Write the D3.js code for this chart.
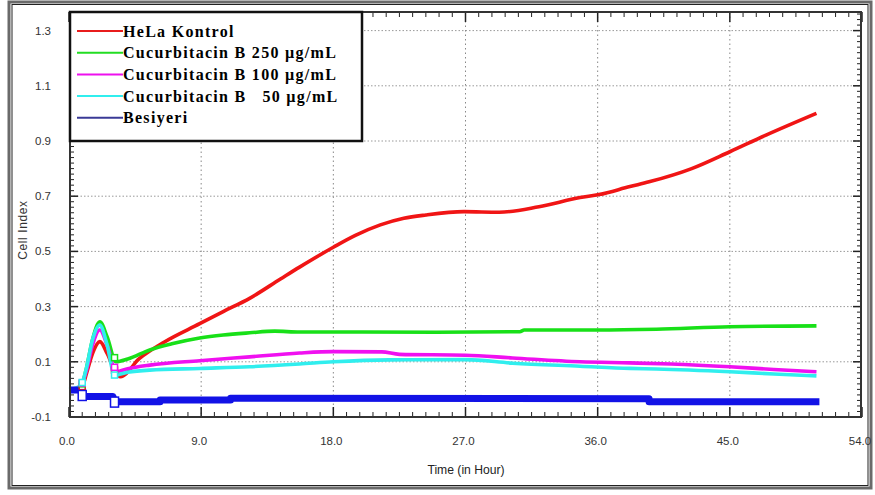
<!DOCTYPE html>
<html>
<head>
<meta charset="utf-8">
<script src="https://cdn.jsdelivr.net/npm/d3@7/dist/d3.min.js"></script>
<style>
  html, body { margin: 0; padding: 0; background: #fff; }
  svg { display: block; }
  .tick-label { font-family: "Liberation Sans", Arial, sans-serif; font-size: 11.5px; fill: #333; }
  .legend-text { font-family: "Liberation Serif", "Times New Roman", serif; font-weight: bold; font-size: 16px; fill: #000; letter-spacing: 1.3px; white-space: pre; }
</style>
</head>
<body>
<script>
// Series: [hour, cell index]
const seriesNames = ["HeLa Kontrol", "Cucurbitacin B 250 µg/mL", "Cucurbitacin B 100 µg/mL", "Cucurbitacin B   50 µg/mL", "Besiyeri"];
const seriesColors = ["#f01515", "#18e018", "#f010f0", "#30eeee", "#1212e6"];
const legendColors = ["#e81c1c", "#22dd22", "#ee10ee", "#30eeee", "#3a3a96"];

const helaKontrol = [[0,0.0],[0.5,0.0],[0.9,0.01],[1.2,0.06],[1.6,0.13],[2.1,0.173],[2.6,0.13],[3.1,0.07],[3.5,0.046],
  [4.8,0.112],[6.5,0.172],[8.9,0.238],[10.5,0.282],[12.3,0.33],[14.4,0.40],[15.7,0.443],[18,0.515],[19.5,0.558],
  [21.2,0.596],[22.8,0.62],[24.3,0.632],[26.9,0.644],[29.3,0.642],[32,0.662],[34.8,0.695],[36.1,0.706],[38.2,0.735],
  [39.5,0.752],[42.4,0.80],[45,0.861],[47.5,0.922],[50.9,1.0]];
const cuc250 = [[0,0.0],[0.5,0.0],[0.9,0.02],[1.2,0.08],[1.6,0.18],[2.1,0.245],[2.6,0.19],[3.2,0.10],[4,0.11],
  [5.5,0.143],[7,0.165],[8.9,0.186],[10.5,0.197],[12.3,0.205],[14,0.211],[15.7,0.208],[20,0.208],[25,0.207],
  [30.7,0.209],[31,0.215],[36,0.215],[40,0.218],[45,0.227],[50.9,0.23]];
const cuc100 = [[0,0.0],[0.5,0.0],[0.9,0.023],[1.2,0.07],[1.6,0.16],[2.1,0.215],[2.6,0.16],[3.2,0.064],[4,0.075],
  [5.5,0.088],[8.9,0.104],[12.3,0.118],[15.7,0.132],[18,0.137],[21.3,0.136],[22.5,0.127],[27,0.124],[30.2,0.114],
  [34.8,0.10],[38.2,0.096],[41,0.092],[45,0.082],[48,0.072],[50.9,0.064]];
const cuc50 = [[0,0.0],[0.5,0.005],[0.9,0.025],[1.2,0.08],[1.6,0.18],[2.1,0.233],[2.6,0.16],[3.1,0.052],[4,0.062],
  [5.5,0.07],[8.9,0.076],[12.3,0.082],[15.7,0.092],[18,0.10],[21.8,0.107],[27,0.108],[30.2,0.095],[34.8,0.084],
  [38.2,0.076],[40,0.074],[45,0.064],[48,0.056],[50.9,0.049]];
const besiyeri = [[0,-0.002],[0.8,-0.002],[0.9,-0.026],[3.0,-0.026],[3.1,-0.045],[6.2,-0.045],[6.2,-0.038],
  [11,-0.038],[11,-0.032],[39.5,-0.034],[39.5,-0.045],[51.1,-0.045]];
const seriesData = [helaKontrol, cuc250, cuc100, cuc50, besiyeri];

// Hollow square markers at the treatment times
const markerHours = [0.9, 3.1];

const xTicks = [0, 9, 18, 27, 36, 45, 54];
const xTickLabels = ["0.0", "9.0", "18.0", "27.0", "36.0", "45.0", "54.0"];
const yTicks = [-0.1, 0.1, 0.3, 0.5, 0.7, 0.9, 1.1, 1.3];
const yTickLabels = ["-0.1", "0.1", "0.3", "0.5", "0.7", "0.9", "1.1", "1.3"];

const W = 875, H = 495;
const plot = { left: 70, right: 861, top: 12, bottom: 417 };

const x = d3.scaleLinear().domain([0, 54]).range([69, 862]);
const y = d3.scaleLinear().domain([-0.1, 1.3]).range([417, 30.6]);

const svg = d3.select("body").append("svg").attr("width", W).attr("height", H);

// outer frame
svg.append("rect").attr("x", 9).attr("y", 2).attr("width", 862).attr("height", 486)
  .attr("fill", "#fff").attr("stroke", "#6a6a6a").attr("stroke-width", 3);
svg.append("rect").attr("x", 12).attr("y", 4.5).attr("width", 856).attr("height", 481)
  .attr("fill", "none").attr("stroke", "#222").attr("stroke-width", 1);

// gridlines
const grid = svg.append("g");
grid.selectAll("line.hg").data(yTicks.filter(v => v > -0.1)).join("line")
  .attr("x1", plot.left).attr("x2", plot.right)
  .attr("y1", d => y(d)).attr("y2", d => y(d))
  .attr("stroke", "#999").attr("stroke-width", 1).attr("stroke-dasharray", "1.5,2");
grid.selectAll("line.vg").data(xTicks.filter(v => v > 0 && v < 54)).join("line")
  .attr("x1", d => x(d)).attr("x2", d => x(d))
  .attr("y1", plot.top).attr("y2", plot.bottom)
  .attr("stroke", "#888").attr("stroke-width", 1).attr("stroke-dasharray", "1.5,3");

// axis ticks (inward, all four sides)
const ticksG = svg.append("g").attr("stroke", "#222");
const xMinor = d3.range(0, 54.01, 0.9);
const yMinor = d3.range(-0.1, 1.37, 0.02).filter(v => y(v) >= plot.top);
xMinor.forEach(v => {
  const major = xTicks.some(t => Math.abs(t - v) < 1e-6);
  const len = major ? 10 : 5;
  ticksG.append("line").attr("x1", x(v)).attr("x2", x(v)).attr("y1", plot.bottom).attr("y2", plot.bottom - len).attr("stroke-width", major ? 1.5 : 1);
  ticksG.append("line").attr("x1", x(v)).attr("x2", x(v)).attr("y1", plot.top).attr("y2", plot.top + len).attr("stroke-width", major ? 1.5 : 1);
});
yMinor.forEach(v => {
  const major = yTicks.some(t => Math.abs(t - v) < 1e-6);
  const len = major ? 8 : 4;
  ticksG.append("line").attr("x1", plot.left).attr("x2", plot.left + len).attr("y1", y(v)).attr("y2", y(v)).attr("stroke-width", major ? 1.5 : 1);
  ticksG.append("line").attr("x1", plot.right).attr("x2", plot.right - len).attr("y1", y(v)).attr("y2", y(v)).attr("stroke-width", major ? 1.5 : 1);
});

// series lines
const line = d3.line().x(d => x(d[0])).y(d => y(d[1])).curve(d3.curveMonotoneX);
const lineStep = d3.line().x(d => x(d[0])).y(d => y(d[1]));
const linesG = svg.append("g");
seriesData.forEach((data, i) => {
  const isBlue = i === 4;
  linesG.append("path").datum(data)
    .attr("d", isBlue ? lineStep : line)
    .attr("fill", "none")
    .attr("stroke", seriesColors[i])
    .attr("stroke-width", isBlue ? 7 : 3.6)
    .attr("stroke-linejoin", "round");
});

// markers
const interp = (data, h) => {
  const bis = d3.bisector(d => d[0]).left;
  const j = Math.min(Math.max(bis(data, h), 1), data.length - 1);
  const a = data[j - 1], b = data[j];
  const t = (h - a[0]) / ((b[0] - a[0]) || 1);
  return a[1] + t * (b[1] - a[1]);
};
seriesData.forEach((data, i) => {
  const isBlue = i === 4;
  markerHours.forEach(h => {
    const v = isBlue ? (h < 2 ? -0.022 : -0.046) : interp(data, h);
    const sw = isBlue ? 8 : 6, sh = isBlue ? 10 : 6;
    linesG.append("rect")
      .attr("x", x(h) - sw / 2).attr("y", y(v) - sh / 2)
      .attr("width", sw).attr("height", sh)
      .attr("fill", "#fff").attr("stroke", seriesColors[i]).attr("stroke-width", 1.5);
  });
});

// plot frame
svg.append("rect").attr("x", plot.left).attr("y", plot.top)
  .attr("width", plot.right - plot.left).attr("height", plot.bottom - plot.top)
  .attr("fill", "none").attr("stroke", "#333").attr("stroke-width", 2);

// tick labels
svg.selectAll("text.xl").data(xTicks).join("text")
  .attr("class", "tick-label").attr("x", d => x(d) - 2).attr("y", 445)
  .attr("text-anchor", "middle").text((d, i) => xTickLabels[i]);
svg.selectAll("text.yl").data(yTicks).join("text")
  .attr("class", "tick-label").attr("x", 51).attr("y", d => y(d) + 4)
  .attr("text-anchor", "end").text((d, i) => yTickLabels[i]);

// axis titles
svg.append("text").attr("transform", "translate(466,474) scale(0.9,1)").attr("text-anchor", "middle")
  .attr("class", "tick-label").style("font-size", "13.5px").style("fill", "#222").text("Time (in Hour)");
svg.append("text").attr("transform", "translate(27,230) rotate(-90)").attr("text-anchor", "middle")
  .style("font-family", "'Liberation Sans', Arial, sans-serif").style("font-size", "12px").style("fill", "#333")
  .style("letter-spacing", "0.6px").text("Cell Index");

// legend
const lg = svg.append("g");
lg.append("rect").attr("x", plot.left).attr("y", plot.top).attr("width", 292).attr("height", 129)
  .attr("fill", "#fff").attr("stroke", "#111").attr("stroke-width", 2.5);
seriesNames.forEach((name, i) => {
  const cy = 31 + i * 21.7;
  lg.append("line").attr("x1", 77).attr("x2", 123).attr("y1", cy).attr("y2", cy)
    .attr("stroke", legendColors[i]).attr("stroke-width", 2);
  lg.append("text").attr("class", "legend-text").attr("x", 123).attr("y", cy + 5.5).text(name);
});
</script>
</body>
</html>
